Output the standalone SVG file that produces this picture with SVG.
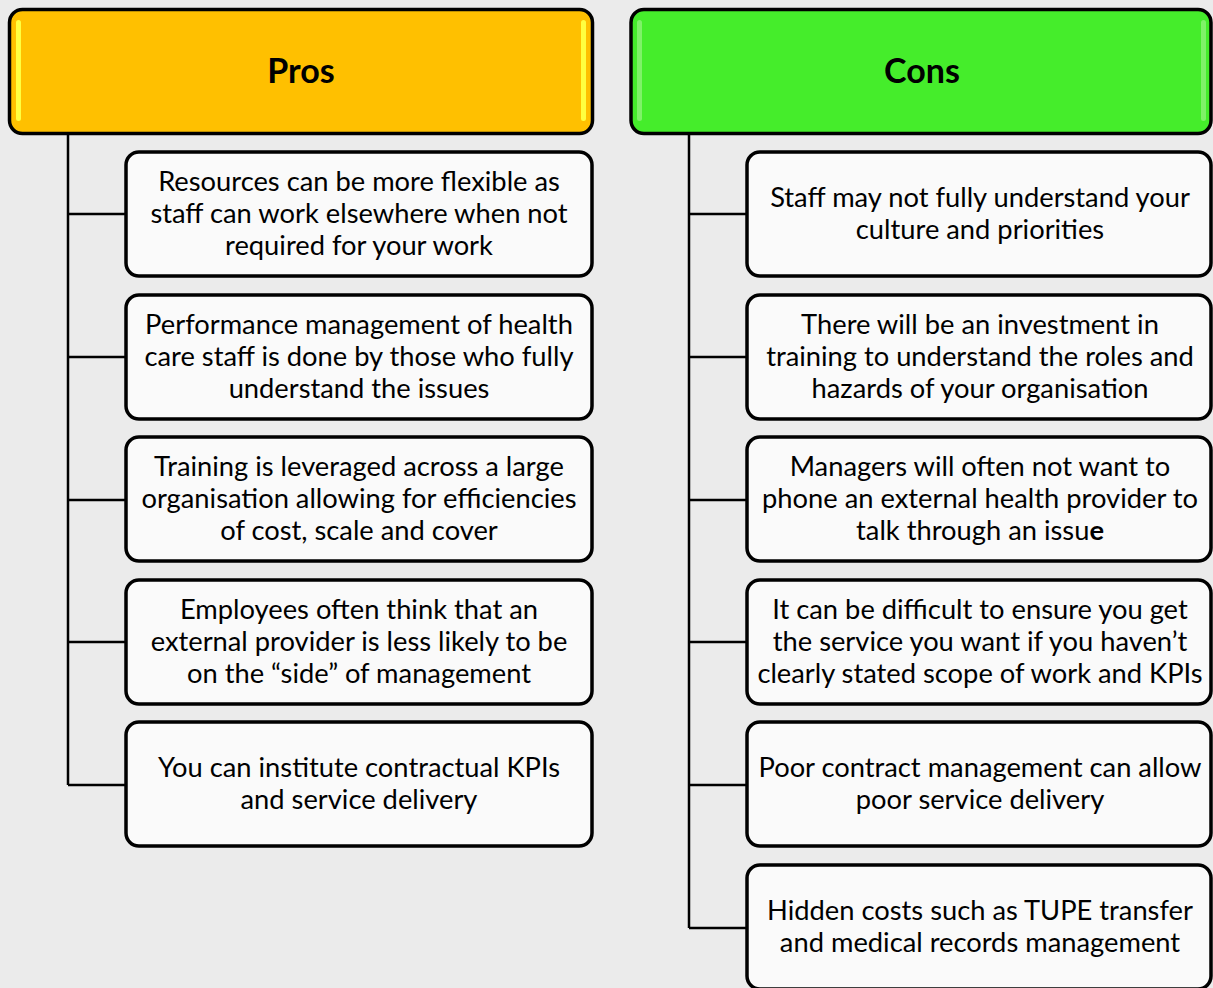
<svg xmlns="http://www.w3.org/2000/svg" width="1213" height="988" viewBox="0 0 1213 988">
  <style>
    .hdr { stroke: #000; stroke-width: 3.5; }
    .box { fill: #fafafa; stroke: #000; stroke-width: 3.5; }
    .link { fill: none; stroke: #000; stroke-width: 2.5; }
    .title { font-family: "Lato", "Liberation Sans", sans-serif; font-weight: bold; font-size: 34px; fill: #000; text-anchor: middle; }
    .txt { font-family: "Lato", "Liberation Sans", sans-serif; font-size: 27.3px; fill: #000; text-anchor: middle; }
  </style>
  <rect width="1213" height="988" fill="#ebebeb"/>

  <!-- connectors -->
  <g id="connectors">
    <path class="link" d="M68 134 V785 M68 214 H126 M68 357 H126 M68 500 H126 M68 642 H126 M68 785 H126"/>
    <path class="link" d="M689 134 V928 M689 214 H747 M689 357 H747 M689 500 H747 M689 642 H747 M689 785 H747 M689 928 H747"/>
  </g>

  <!-- headers -->
  <g id="pros-header">
    <rect class="hdr" x="9.5" y="9.5" width="583" height="124" rx="13" fill="#ffc000"/>
    <rect x="16" y="20" width="5" height="101" rx="2.5" fill="#ffff40"/>
    <rect x="581" y="20" width="5" height="101" rx="2.5" fill="#ffff40"/>
    <text class="title" x="301" y="83">Pros</text>
  </g>
  <g id="cons-header">
    <rect class="hdr" x="631" y="9.5" width="580" height="124" rx="13" fill="#45ed2b"/>
    <rect x="637" y="20" width="5" height="101" rx="2.5" fill="#7ff268"/>
    <rect x="1201" y="20" width="5" height="101" rx="2.5" fill="#7ff268"/>
    <text class="title" x="922" y="83">Cons</text>
  </g>

  <!-- pros items -->
  <g id="pro-1">
    <rect class="box" x="126" y="152" width="466" height="124" rx="13"/>
    <text class="txt"><tspan x="359" y="191">Resources can be more flexible as</tspan><tspan x="359" y="223">staff can work elsewhere when not</tspan><tspan x="359" y="255">required for your work</tspan></text>
  </g>
  <g id="pro-2">
    <rect class="box" x="126" y="295" width="466" height="124" rx="13"/>
    <text class="txt"><tspan x="359" y="334">Performance management of health</tspan><tspan x="359" y="366">care staff is done by those who fully</tspan><tspan x="359" y="398">understand the issues</tspan></text>
  </g>
  <g id="pro-3">
    <rect class="box" x="126" y="437" width="466" height="124" rx="13"/>
    <text class="txt"><tspan x="359" y="476">Training is leveraged across a large</tspan><tspan x="359" y="508">organisation allowing for efficiencies</tspan><tspan x="359" y="540">of cost, scale and cover</tspan></text>
  </g>
  <g id="pro-4">
    <rect class="box" x="126" y="580" width="466" height="124" rx="13"/>
    <text class="txt"><tspan x="359" y="619">Employees often think that an</tspan><tspan x="359" y="651">external provider is less likely to be</tspan><tspan x="359" y="683">on the “side” of management</tspan></text>
  </g>
  <g id="pro-5">
    <rect class="box" x="126" y="722" width="466" height="124" rx="13"/>
    <text class="txt"><tspan x="359" y="777">You can institute contractual KPIs</tspan><tspan x="359" y="809">and service delivery</tspan></text>
  </g>

  <!-- cons items -->
  <g id="con-1">
    <rect class="box" x="747" y="152" width="464" height="124" rx="13"/>
    <text class="txt"><tspan x="980" y="207">Staff may not fully understand your</tspan><tspan x="980" y="239">culture and priorities</tspan></text>
  </g>
  <g id="con-2">
    <rect class="box" x="747" y="295" width="464" height="124" rx="13"/>
    <text class="txt"><tspan x="980" y="334">There will be an investment in</tspan><tspan x="980" y="366">training to understand the roles and</tspan><tspan x="980" y="398">hazards of your organisation</tspan></text>
  </g>
  <g id="con-3">
    <rect class="box" x="747" y="437" width="464" height="124" rx="13"/>
    <text class="txt"><tspan x="980" y="476">Managers will often not want to</tspan><tspan x="980" y="508">phone an external health provider to</tspan><tspan x="980" y="540">talk through an issu<tspan font-weight="bold">e</tspan></tspan></text>
  </g>
  <g id="con-4">
    <rect class="box" x="747" y="580" width="464" height="124" rx="13"/>
    <text class="txt"><tspan x="980" y="619">It can be difficult to ensure you get</tspan><tspan x="980" y="651">the service you want if you haven’t</tspan><tspan x="980" y="683">clearly stated scope of work and KPIs</tspan></text>
  </g>
  <g id="con-5">
    <rect class="box" x="747" y="722" width="464" height="124" rx="13"/>
    <text class="txt"><tspan x="980" y="777">Poor contract management can allow</tspan><tspan x="980" y="809">poor service delivery</tspan></text>
  </g>
  <g id="con-6">
    <rect class="box" x="747" y="865" width="464" height="124" rx="13"/>
    <text class="txt"><tspan x="980" y="920">Hidden costs such as TUPE transfer</tspan><tspan x="980" y="952">and medical records management</tspan></text>
  </g>
</svg>
